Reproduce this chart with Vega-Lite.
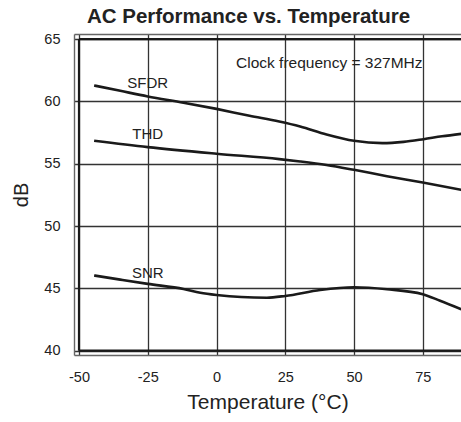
{
  "$schema": "https://vega.github.io/schema/vega-lite/v6.json",
  "width": 387,
  "height": 321,
  "autosize": "none",
  "padding": {"left": 74, "top": 34, "right": 0, "bottom": 67},
  "background": "white",
  "title": {
    "text": "AC Performance vs. Temperature",
    "font": "Liberation Sans",
    "fontSize": 20.5,
    "fontWeight": "bold",
    "color": "#222222",
    "anchor": "middle",
    "dx": -19,
    "offset": 4
  },
  "config": {
    "view": {"stroke": null},
    "font": "Liberation Sans"
  },
  "datasets": {
    "curves": [
      {"series": "SFDR", "temp": -44.5, "db": 61.28},
      {"series": "SFDR", "temp": -35, "db": 60.85},
      {"series": "SFDR", "temp": -25, "db": 60.4},
      {"series": "SFDR", "temp": -12, "db": 59.9},
      {"series": "SFDR", "temp": 0, "db": 59.4},
      {"series": "SFDR", "temp": 12, "db": 58.85},
      {"series": "SFDR", "temp": 22.8, "db": 58.39},
      {"series": "SFDR", "temp": 30.4, "db": 57.99},
      {"series": "SFDR", "temp": 40, "db": 57.35},
      {"series": "SFDR", "temp": 50, "db": 56.84},
      {"series": "SFDR", "temp": 60.3, "db": 56.65},
      {"series": "SFDR", "temp": 68, "db": 56.75},
      {"series": "SFDR", "temp": 75.3, "db": 56.97},
      {"series": "SFDR", "temp": 82, "db": 57.2},
      {"series": "SFDR", "temp": 89, "db": 57.4},
      {"series": "THD", "temp": -44.5, "db": 56.84},
      {"series": "THD", "temp": -25, "db": 56.33},
      {"series": "THD", "temp": 0, "db": 55.8},
      {"series": "THD", "temp": 22.8, "db": 55.37},
      {"series": "THD", "temp": 30.4, "db": 55.18},
      {"series": "THD", "temp": 40, "db": 54.9},
      {"series": "THD", "temp": 50, "db": 54.51},
      {"series": "THD", "temp": 62, "db": 54.0},
      {"series": "THD", "temp": 75, "db": 53.49},
      {"series": "THD", "temp": 89, "db": 52.9},
      {"series": "SNR", "temp": -44.5, "db": 46.03},
      {"series": "SNR", "temp": -35, "db": 45.7},
      {"series": "SNR", "temp": -25, "db": 45.36},
      {"series": "SNR", "temp": -12, "db": 44.95},
      {"series": "SNR", "temp": -5.9, "db": 44.65},
      {"series": "SNR", "temp": 0, "db": 44.47},
      {"series": "SNR", "temp": 9, "db": 44.3},
      {"series": "SNR", "temp": 18.3, "db": 44.25},
      {"series": "SNR", "temp": 25, "db": 44.39},
      {"series": "SNR", "temp": 37.7, "db": 44.87},
      {"series": "SNR", "temp": 50, "db": 45.09},
      {"series": "SNR", "temp": 62, "db": 44.93},
      {"series": "SNR", "temp": 75, "db": 44.53},
      {"series": "SNR", "temp": 81.3, "db": 44.0},
      {"series": "SNR", "temp": 89, "db": 43.32}
    ],
    "frame": [
      {"x": -50, "x2": -50, "y": 40, "y2": 65},
      {"x": -50, "x2": 88.9, "y": 40, "y2": 40},
      {"x": -50, "x2": 88.9, "y": 65, "y2": 65}
    ],
    "labels": [
      {"temp": -25, "db": 61.45, "label": "SFDR"},
      {"temp": -25, "db": 57.4, "label": "THD"},
      {"temp": -25, "db": 46.25, "label": "SNR"}
    ],
    "note": [
      {"temp": 41, "db": 63.1, "label": "Clock frequency = 327MHz"}
    ]
  },
  "resolve": {"axis": {"x": "independent"}},
  "layer": [
    {
      "data": {"name": "curves"},
      "mark": {"type": "line", "interpolate": "monotone", "color": "#1a1a1a", "strokeWidth": 2.6, "clip": true},
      "encoding": {
        "x": {
          "field": "temp",
          "type": "quantitative",
          "scale": {"domain": [-51.82, 88.9], "nice": false, "zero": false},
          "axis": {
            "orient": "bottom",
            "values": [-50, -25, 0, 25, 50, 75],
            "labelExpr": "'' + datum.value",
            "title": "Temperature (°C)",
            "titleFont": "Liberation Sans",
            "titleFontSize": 21,
            "titleFontWeight": "normal",
            "titleColor": "#222222",
            "titlePadding": 8,
            "labelFont": "Liberation Sans",
            "labelFontSize": 14.5,
            "labelColor": "#222222",
            "labelPadding": 15,
            "labelFlush": false,
            "ticks": false,
            "domain": true,
            "domainColor": "#666666",
            "domainWidth": 1.4,
            "grid": true,
            "gridColor": "#333333",
            "gridWidth": 1.3,
            "gridOpacity": 1
          }
        },
        "y": {
          "field": "db",
          "type": "quantitative",
          "scale": {"domain": [39.65, 65.41], "nice": false, "zero": false},
          "axis": {
            "orient": "left",
            "values": [40, 45, 50, 55, 60, 65],
            "title": "dB",
            "titleFont": "Liberation Sans",
            "titleFontSize": 20,
            "titleFontWeight": "normal",
            "titleColor": "#222222",
            "titlePadding": 12,
            "labelFont": "Liberation Sans",
            "labelFontSize": 14.5,
            "labelColor": "#222222",
            "labelPadding": 14,
            "labelFlush": false,
            "ticks": false,
            "domain": true,
            "domainColor": "#666666",
            "domainWidth": 1.4,
            "grid": true,
            "gridColor": "#333333",
            "gridWidth": 1.3,
            "gridOpacity": 1
          }
        },
        "detail": {"field": "series", "type": "nominal"}
      }
    },
    {
      "data": {"name": "frame"},
      "mark": {"type": "rule", "color": "#1a1a1a", "strokeWidth": 2.2, "clip": true},
      "encoding": {
        "x": {
          "field": "x",
          "type": "quantitative",
          "axis": {
            "orient": "top",
            "labels": false,
            "ticks": false,
            "grid": false,
            "title": null,
            "domain": true,
            "domainColor": "#666666",
            "domainWidth": 1.4
          }
        },
        "x2": {"field": "x2"},
        "y": {"field": "y", "type": "quantitative"},
        "y2": {"field": "y2"}
      }
    },
    {
      "data": {"name": "labels"},
      "mark": {"type": "text", "font": "Liberation Sans", "fontSize": 15, "color": "#222222", "align": "center", "baseline": "middle"},
      "encoding": {
        "x": {"field": "temp", "type": "quantitative", "axis": null},
        "y": {"field": "db", "type": "quantitative"},
        "text": {"field": "label"}
      }
    },
    {
      "data": {"name": "note"},
      "mark": {"type": "text", "font": "Liberation Sans", "fontSize": 15.5, "color": "#222222", "align": "center", "baseline": "middle"},
      "encoding": {
        "x": {"field": "temp", "type": "quantitative", "axis": null},
        "y": {"field": "db", "type": "quantitative"},
        "text": {"field": "label"}
      }
    }
  ]
}
